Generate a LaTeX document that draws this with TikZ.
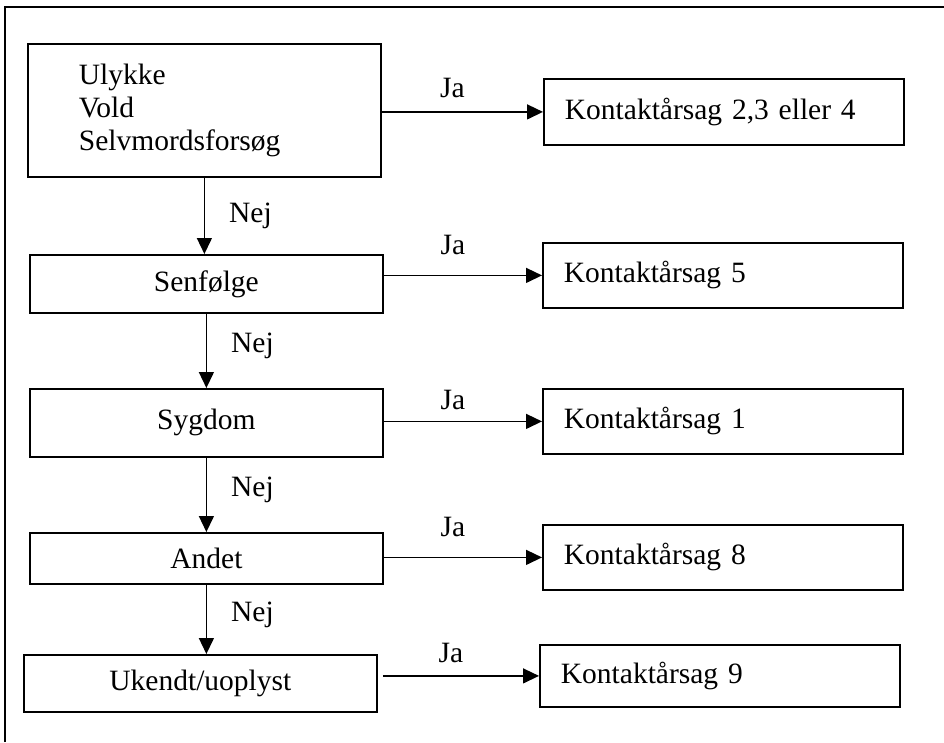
\documentclass[tikz,border=0pt]{standalone}
\usepackage{fontspec}
\setmainfont{Liberation Serif}
\usetikzlibrary{arrows.meta}

\tikzset{
    box/.style={draw, line width=1.8pt, anchor=north west, inner ysep=0pt},
    stepbox/.style={box, inner xsep=0pt, text width=353pt, align=center},
    causebox/.style={box, inner xsep=21pt, text width=318pt, align=left},
    arr/.style={-{Triangle[length=16pt, width=15pt]}, line width=1.4pt},
    ja/.style={above=#1, xshift=-10pt, inner sep=0pt},
    nej/.style={midway, right=24pt, inner sep=0pt}
}

\begin{document}
\begin{tikzpicture}[x=1pt, y=-1pt, font=\fontsize{29.5}{33}\selectfont]
    \useasboundingbox (0, 0) rectangle (944, 742);
    % Frame (only top and left edges show)
    \draw[line width=2pt] (5, 742) -- (5, 7) -- (944, 7);

    % --- Questions (left column)
    \node[box, inner xsep=51pt, text width=251pt, align=left, minimum height=133pt]
        (ulykke) at (27, 43) {Ulykke\\Vold\\Selvmordsforsøg};
    \node[stepbox, minimum height=58pt] (senf) at (29, 254) {Senfølge};
    \node[stepbox, minimum height=68pt] (sygdom) at (29, 388) {Sygdom};
    \node[stepbox, minimum height=51pt] (andet) at (29, 532) {Andet};
    \node[stepbox, minimum height=57pt] (ukendt) at (23, 654) {Ukendt/uoplyst};

    % --- Answers (right column)
    \node[causebox, minimum height=66pt] (k234) at (543, 78) {Kontaktårsag 2,3 eller 4};
    \node[causebox, minimum height=65pt] (k5) at (542, 242) {Kontaktårsag 5};
    \node[causebox, minimum height=65pt] (k1) at (542, 388) {Kontaktårsag 1};
    \node[causebox, minimum height=65pt] (k8) at (542, 524) {Kontaktårsag 8};
    \node[causebox, minimum height=62pt] (k9) at (539, 644) {Kontaktårsag 9};

    % Ja arrows
    \draw[arr] (ulykke.east |- k234.west) -- node[ja=13pt] {Ja} (k234.west);
    \draw[arr] (senf.east |- k5.west) -- node[ja=20pt] {Ja} (k5.west);
    \draw[arr] (sygdom.east |- k1.west) -- node[ja=11pt] {Ja} (k1.west);
    \draw[arr] (andet.east |- k8.west) -- node[ja=20pt] {Ja} (k8.west);
    \draw[arr] ([xshift=5pt]ukendt.east |- k9.west) -- node[ja=12pt] {Ja} (k9.west);

    % Nej arrows
    \draw[arr] (ulykke.south) -- node[nej] {Nej} (ulykke.south |- senf.north);
    \draw[arr] (senf.south) -- node[nej, yshift=5pt] {Nej} (senf.south |- sygdom.north);
    \draw[arr] (sygdom.south) -- node[nej, yshift=5pt] {Nej} (sygdom.south |- andet.north);
    \draw[arr] (andet.south) -- node[nej, yshift=5pt] {Nej} (andet.south |- ukendt.north);
\end{tikzpicture}
\end{document}
